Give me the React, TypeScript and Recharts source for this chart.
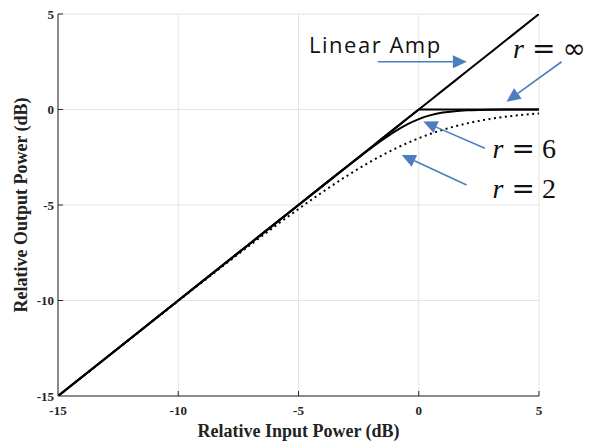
import React from "react";
import { LineChart, Line, XAxis, YAxis, CartesianGrid, ReferenceLine, ReferenceDot } from "recharts";

// Input power grid (dB) shared by every curve
const inputDb = [-15, -12, -10, -8, -7, -6, -5, -4, -3, -2.5, -2, -1.5, -1, -0.5, 0, 0.5, 1, 1.5, 2, 2.5, 3, 4, 5];

// Output power (dB) for each amplifier model
const linearAmp = [-15, -12, -10, -8, -7, -6, -5, -4, -3, -2.5, -2, -1.5, -1, -0.5, 0, 0.5, 1, 1.5, 2, 2.5, 3, 4, 5];
const rInf = [-15, -12, -10, -8, -7, -6, -5, -4, -3, -2.5, -2, -1.5, -1, -0.5, 0, 0, 0, 0, 0, 0, 0, 0, 0];
const r6 = [-15, -12, -10, -8, -7, -6, -5, -4, -3.011, -2.523, -2.044, -1.586, -1.162, -0.794, -0.502, -0.294, -0.162, -0.086, -0.044, -0.023, -0.012, -0.003, -0.001];
const r2 = [-15.002, -12.009, -10.022, -8.054, -7.085, -6.133, -5.207, -4.32, -3.487, -3.097, -2.728, -2.382, -2.062, -1.77, -1.505, -1.27, -1.062, -0.882, -0.728, -0.597, -0.487, -0.32, -0.207];

const axisTicks = [-15, -10, -5, 0, 5];

// Annotation arrows: [fromX, fromY, toX, toY] in dB
const arrows: Array<[number, number, number, number]> = [
  [-1.7, 2.5, 2.0, 2.5],
  [5.94, 2.5, 3.65, 0.41],
  [2.75, -2.03, 0.19, -0.63],
  [1.99, -3.95, -0.71, -2.38],
];

const data = inputDb.map((x, i) => ({
  x,
  linear: linearAmp[i],
  rInf: rInf[i],
  r6: r6[i],
  r2: r2[i],
}));

const SERIF = "'Liberation Serif', 'Times New Roman', serif";
const SANS = "'DejaVu Sans', sans-serif";
const BLUE = "#4a7ebf";
const AXIS = "#262626";

function XTick(props: any) {
  const { x, y, payload } = props;
  return (
    <g>
      {payload.value !== -15 && <line x1={x} x2={x} y1={y} y2={y - 5} stroke={AXIS} />}
      <text x={x} y={y + 19} textAnchor="middle" fontFamily={SERIF} fontWeight="bold" fontSize={13} fill="#222">
        {payload.value}
      </text>
    </g>
  );
}

function YTick(props: any) {
  const { x, y, payload } = props;
  return (
    <g>
      {payload.value !== -15 && <line x1={x} x2={x + 5} y1={y} y2={y} stroke={AXIS} />}
      <text x={x - 4} y={y + 4.5} textAnchor="end" fontFamily={SERIF} fontWeight="bold" fontSize={13} fill="#222">
        {payload.value}
      </text>
    </g>
  );
}

function arrowShape(p: any) {
  const { x1, y1, x2, y2 } = p;
  const ang = Math.atan2(y2 - y1, x2 - x1);
  const len = 14;
  const half = 6.5;
  const bx = x2 - len * Math.cos(ang);
  const by = y2 - len * Math.sin(ang);
  const nx = -Math.sin(ang) * half;
  const ny = Math.cos(ang) * half;
  return (
    <g>
      <line x1={x1} y1={y1} x2={bx} y2={by} stroke={BLUE} strokeWidth={1.6} />
      <polygon points={`${x2},${y2} ${bx + nx},${by + ny} ${bx - nx},${by - ny}`} fill={BLUE} />
    </g>
  );
}

function rLabel(value: string, wide: boolean) {
  return (p: any) => (
    <text x={p.cx} y={p.cy} fontFamily={SERIF} fontSize={28} fill="#111">
      <tspan fontStyle="italic">r</tspan>
      <tspan dx={8} fontFamily={SANS} fontSize={28}>=</tspan>
      <tspan dx={7} fontFamily={wide ? SANS : SERIF} fontSize={28}>{value}</tspan>
    </text>
  );
}

function linearLabel(p: any) {
  return (
    <text x={p.cx} y={p.cy} fontFamily="'Open Sans', 'Noto Sans', sans-serif" fontSize={22} letterSpacing={1.5} fill="#111">
      Linear Amp
    </text>
  );
}

export default function App() {
  return (
    <div style={{ position: "absolute", left: 0, top: 0, background: "#fff" }}>
      <LineChart width={592} height={443} data={data} margin={{ top: 14, right: 53, bottom: 7, left: 0 }}>
        <CartesianGrid stroke="#e4e4e4" strokeWidth={1} />
        <XAxis
          dataKey="x"
          type="number"
          domain={[-15, 5]}
          ticks={axisTicks}
          allowDataOverflow
          height={40}
          tickSize={0}
          tickMargin={0}
          tickLine={false}
          axisLine={{ stroke: AXIS }}
          tick={<XTick />}
          label={{
            content: (lp: any) => (
              <text
                x={lp.viewBox.x + lp.viewBox.width / 2}
                y={lp.viewBox.y + 41}
                textAnchor="middle"
                fontFamily={SERIF}
                fontWeight="bold"
                fontSize={18}
                fill="#222"
              >
                Relative Input Power (dB)
              </text>
            ),
          }}
        />
        <YAxis
          type="number"
          domain={[-15, 5]}
          ticks={axisTicks}
          allowDataOverflow
          width={58}
          tickSize={0}
          tickMargin={0}
          tickLine={false}
          axisLine={{ stroke: AXIS }}
          tick={<YTick />}
          label={{
            content: (lp: any) => {
              const cx = 21;
              const cy = lp.viewBox.y + lp.viewBox.height / 2;
              return (
                <text
                  x={cx}
                  y={cy}
                  transform={`rotate(-90 ${cx} ${cy})`}
                  textAnchor="middle"
                  dominantBaseline="central"
                  fontFamily={SERIF}
                  fontWeight="bold"
                  fontSize={18}
                  fill="#222"
                >
                  Relative Output Power (dB)
                </text>
              );
            },
          }}
        />
        <Line dataKey="r2" type="monotone" stroke="#000" strokeWidth={2} strokeDasharray="2 3.5" dot={false} isAnimationActive={false} />
        <Line dataKey="r6" type="monotone" stroke="#000" strokeWidth={2} dot={false} isAnimationActive={false} />
        <Line dataKey="rInf" type="linear" stroke="#000" strokeWidth={2} dot={false} isAnimationActive={false} />
        <Line dataKey="linear" type="linear" stroke="#000" strokeWidth={2} dot={false} isAnimationActive={false} />
        {arrows.map(([ax, ay, bx, by], i) => (
          <ReferenceLine
            key={i}
            segment={[{ x: ax, y: ay }, { x: bx, y: by }]}
            ifOverflow="visible"
            shape={arrowShape}
          />
        ))}
        <ReferenceDot x={-4.56} y={2.96} ifOverflow="visible" shape={linearLabel} />
        <ReferenceDot x={3.92} y={2.7} ifOverflow="visible" shape={rLabel("∞", true)} />
        <ReferenceDot x={3.07} y={-2.56} ifOverflow="visible" shape={rLabel("6", false)} />
        <ReferenceDot x={3.07} y={-4.65} ifOverflow="visible" shape={rLabel("2", false)} />
      </LineChart>
    </div>
  );
}
